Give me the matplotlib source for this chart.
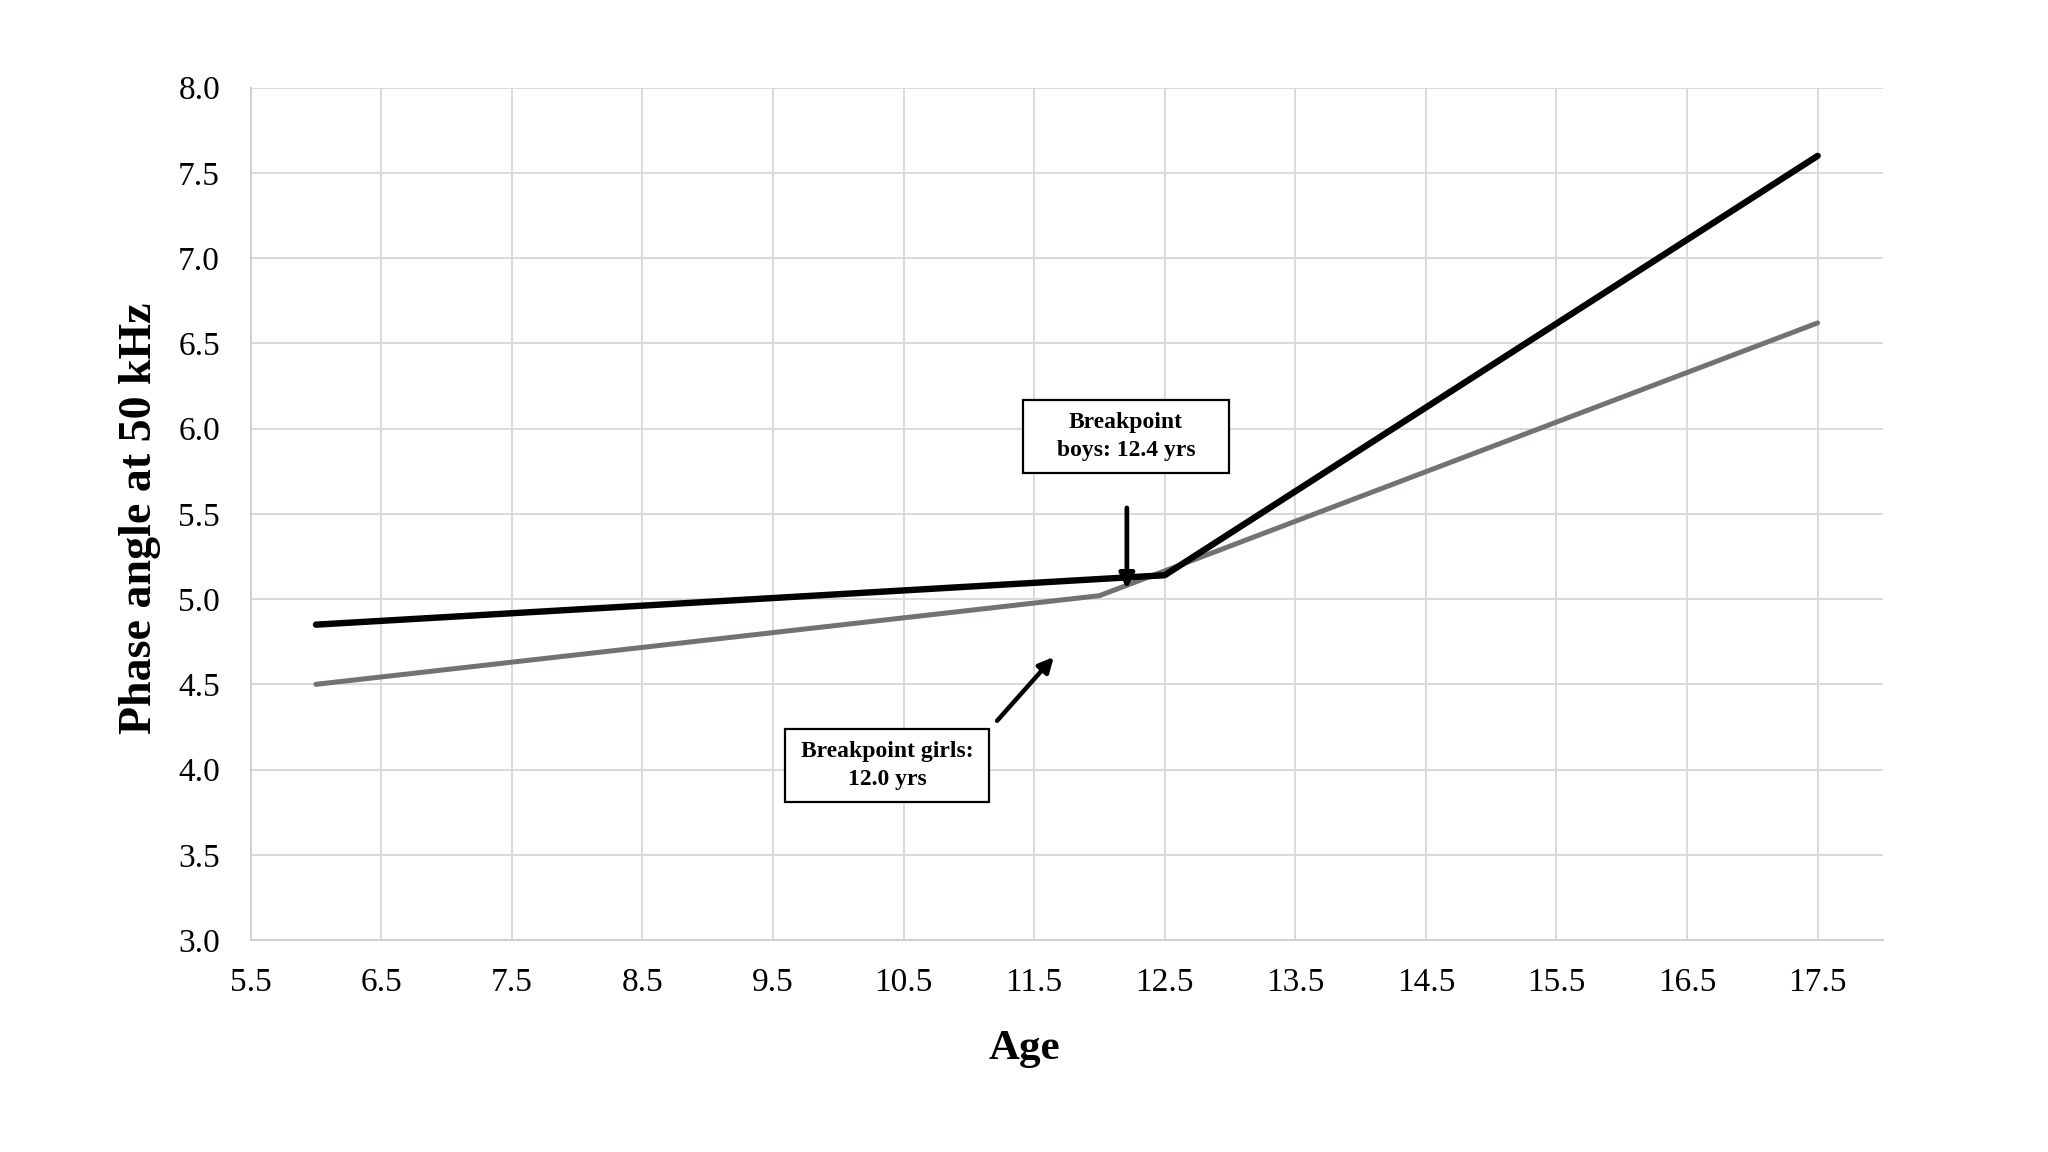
import matplotlib
matplotlib.use("Agg")
import matplotlib.pyplot as plt
from matplotlib.patches import Rectangle

plt.rcParams['font.family'] = ['Liberation Serif', 'DejaVu Serif']

# Data (piecewise linear fits)
boys_age = [6.0, 12.5, 17.5]
boys_pa = [4.85, 5.14, 7.60]
girls_age = [6.0, 12.0, 17.5]
girls_pa = [4.50, 5.02, 6.62]

x_ticks = [5.5, 6.5, 7.5, 8.5, 9.5, 10.5, 11.5, 12.5, 13.5, 14.5, 15.5, 16.5, 17.5]
y_ticks = [3.0, 3.5, 4.0, 4.5, 5.0, 5.5, 6.0, 6.5, 7.0, 7.5, 8.0]

fig = plt.figure(figsize=(20.48, 11.52), dpi=100)
ax = fig.add_axes([0.1224, 0.184, 0.7970, 0.7399])

grid_c = '#d9d9d9'
ax.set_xlim(5.5, 18.0)
ax.set_ylim(3.0, 8.0)
ax.set_xticks(x_ticks)
ax.set_yticks(y_ticks)
ax.set_xticklabels([f"{v:.1f}" for v in x_ticks])
ax.set_yticklabels([f"{v:.1f}" for v in y_ticks])
ax.grid(True, color=grid_c, linewidth=1.4, zorder=0)
ax.set_axisbelow(True)
for s in ['top', 'right']:
    ax.spines[s].set_visible(False)
for s in ['left', 'bottom']:
    ax.spines[s].set_color('#cfcfcf')
    ax.spines[s].set_linewidth(1.4)
ax.tick_params(axis='both', length=0, labelsize=24)
ax.tick_params(axis='x', pad=20)
ax.tick_params(axis='y', pad=22)

ax.plot(girls_age, girls_pa, color='#767171', linewidth=3.6, solid_capstyle='round', zorder=3)
ax.plot(boys_age, boys_pa, color='black', linewidth=4.6, solid_capstyle='round', zorder=3)

fig.text(0.5, 1 - 1049 / 1152, 'Age', fontsize=31, fontweight='bold', ha='center', va='center')
fig.text(140 / 2048, 0.550, 'Phase angle at 50 kHz', fontsize=33, fontweight='bold',
         ha='center', va='center', rotation=90)

# Annotation boxes
ax.add_patch(Rectangle((11.418, 5.740), 12.989 - 11.418, 6.168 - 5.740, facecolor='white',
                       edgecolor='black', linewidth=1.6, zorder=5))
ax.add_patch(Rectangle((9.594, 3.811), 11.158 - 9.594, 4.239 - 3.811, facecolor='white',
                       edgecolor='black', linewidth=1.6, zorder=5))
ax.text((11.418 + 12.989) / 2, (5.740 + 6.168) / 2, 'Breakpoint\nboys: 12.4 yrs', ha='center', va='center',
        fontsize=17, fontweight='bold', linespacing=1.45, zorder=6)
ax.text((9.594 + 11.158) / 2, (3.811 + 4.239) / 2, 'Breakpoint girls:\n12.0 yrs', ha='center', va='center',
        fontsize=17, fontweight='bold', linespacing=1.45, zorder=6)

ax.annotate('', xy=(12.21, 5.06), xytext=(12.21, 5.535),
            arrowprops=dict(arrowstyle='-|>', color='black', lw=3.4, mutation_scale=22,
                            shrinkA=0, shrinkB=0), zorder=6)
ax.annotate('', xy=(11.65, 4.66), xytext=(11.216, 4.286),
            arrowprops=dict(arrowstyle='-|>', color='black', lw=3.2, mutation_scale=22,
                            shrinkA=0, shrinkB=0), zorder=6)

fig.savefig('out.png', dpi=100, facecolor='white')
